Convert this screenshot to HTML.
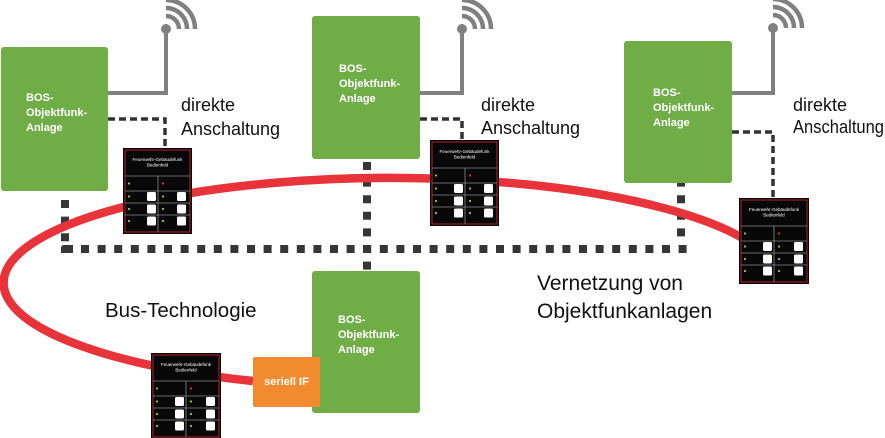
<!DOCTYPE html>
<html>
<head>
<meta charset="utf-8">
<style>
  html,body{margin:0;padding:0;background:#fff;}
  svg{display:block;}
  .lbl{font-family:"Liberation Sans",Arial,sans-serif;fill:#111;}
  .gt{font-family:"Liberation Sans",Arial,sans-serif;font-weight:bold;fill:#fff;font-size:11px;}
  .pt{font-family:"Liberation Sans",Arial,sans-serif;fill:#fff;}
</style>
</head>
<body>
<svg width="885" height="438" viewBox="0 0 885 438" xmlns="http://www.w3.org/2000/svg">
  <rect width="885" height="438" fill="#fff"/>

  <!-- big dotted network lines -->
  <g fill="none" stroke="#363636" stroke-width="8">
    <line x1="81" y1="249" x2="688" y2="249" stroke-dasharray="8 8.6"/>
    <line x1="65" y1="200" x2="65" y2="242" stroke-dasharray="8 8.6"/>
    <line x1="367" y1="162" x2="367" y2="270" stroke-dasharray="8 8.6"/>
    <line x1="681" y1="178.6" x2="681" y2="242" stroke-dasharray="8 8.6"/>
  </g>
  <path d="M61 253 V248 Q61 245 64 245 H73 V253 Z" fill="#363636"/>

  <!-- red bus ring -->
  <path d="M253 381 A388 105 0 1 1 760 250" fill="none" stroke="#e8333b" stroke-width="8.5"/>

  <!-- antennas -->
  <g fill="none" stroke="#808080" stroke-width="4">
    <polyline points="108,93 166,93 166,29"/>
    <path d="M166 16 A13 13 0 0 1 179 29" stroke-width="4.5"/>
    <path d="M166 8 A21 21 0 0 1 187 29" stroke-width="4.5"/>
    <path d="M166 0 A29 29 0 0 1 195 29" stroke-width="4.5"/>

    <polyline points="420,93 462,93 462,29"/>
    <path d="M462 16 A13 13 0 0 1 475 29" stroke-width="4.5"/>
    <path d="M462 8 A21 21 0 0 1 483 29" stroke-width="4.5"/>
    <path d="M462 0 A29 29 0 0 1 491 29" stroke-width="4.5"/>

    <polyline points="732,93 773,93 773,28"/>
    <path d="M773 15 A13 13 0 0 1 786 28" stroke-width="4.5"/>
    <path d="M773 7 A21 21 0 0 1 794 28" stroke-width="4.5"/>
    <path d="M773 -1 A29 29 0 0 1 802 28" stroke-width="4.5"/>
  </g>
  <g fill="#808080">
    <circle cx="166" cy="29" r="5"/>
    <circle cx="462" cy="29" r="5"/>
    <circle cx="773" cy="28" r="5"/>
  </g>

  <!-- thin dashed direct connections -->
  <g fill="none" stroke="#333" stroke-width="3.5" stroke-dasharray="7 4">
    <polyline points="108,119 165,119 165,148"/>
    <polyline points="420,119 462,119 462,140"/>
    <polyline points="732,132 773,132 773,199"/>
  </g>

  <!-- green boxes -->
  <g fill="#70ad47">
    <rect x="1" y="47" width="107" height="144" rx="3"/>
    <rect x="312" y="16" width="108" height="143" rx="3"/>
    <rect x="624" y="41" width="108" height="142" rx="3"/>
    <rect x="312" y="271" width="108" height="142" rx="3"/>
  </g>
  <text class="gt" x="26" y="101">BOS-</text>
  <text class="gt" x="26" y="116">Objektfunk-</text>
  <text class="gt" x="26" y="131">Anlage</text>

  <text class="gt" x="339" y="72">BOS-</text>
  <text class="gt" x="339" y="87">Objektfunk-</text>
  <text class="gt" x="339" y="102">Anlage</text>

  <text class="gt" x="653" y="96">BOS-</text>
  <text class="gt" x="653" y="111">Objektfunk-</text>
  <text class="gt" x="653" y="126">Anlage</text>

  <text class="gt" x="338" y="323">BOS-</text>
  <text class="gt" x="338" y="338">Objektfunk-</text>
  <text class="gt" x="338" y="353">Anlage</text>

  <!-- orange serial IF -->
  <rect x="253" y="357" width="67" height="50" rx="2" fill="#f28a30"/>
  <text class="gt" x="286.5" y="385" text-anchor="middle">seriell IF</text>

  <!-- labels -->
  <text class="lbl" x="181" y="111" font-size="18">direkte</text>
  <text class="lbl" x="181" y="135" font-size="18">Anschaltung</text>
  <text class="lbl" x="481" y="111" font-size="18">direkte</text>
  <text class="lbl" x="481" y="134" font-size="18">Anschaltung</text>
  <text class="lbl" x="793" y="111" font-size="18">direkte</text>
  <text class="lbl" x="793" y="133" font-size="18" textLength="91" lengthAdjust="spacingAndGlyphs">Anschaltung</text>

  <text class="lbl" x="105" y="317" font-size="20.5">Bus-Technologie</text>
  <text class="lbl" x="537" y="290" font-size="21">Vernetzung von</text>
  <text class="lbl" x="537" y="318" font-size="21">Objektfunkanlagen</text>

  <!-- panels -->
  <g transform="translate(123,148)">
    <rect width="69" height="86" fill="#080808"/>
    <rect x="2" y="2" width="65" height="82" fill="none" stroke="#b3222a" stroke-width="1"/>
    <text class="pt" x="34.5" y="13" font-size="4.5" text-anchor="middle">Feuerwehr-Gebäudefunk</text>
    <text class="pt" x="34.5" y="18.5" font-size="4.5" text-anchor="middle">Bedienfeld</text>
    <g stroke="#8a8a8a" stroke-width="0.8">
      <line x1="2" y1="28" x2="67" y2="28"/><line x1="35" y1="28" x2="35" y2="84"/>
      <line x1="2" y1="43" x2="67" y2="43"/><line x1="2" y1="55" x2="67" y2="55"/><line x1="2" y1="67" x2="67" y2="67"/>
    </g>
    <circle cx="6" cy="35.5" r="1.1" fill="#9c3"/><circle cx="40" cy="35.5" r="1.1" fill="#e33"/>
    <g fill="#9c3"><circle cx="6" cy="48.5" r="1.1"/><circle cx="6" cy="61" r="1.1"/><circle cx="6" cy="73" r="1.1"/><circle cx="40" cy="48.5" r="1.1"/><circle cx="40" cy="61" r="1.1"/><circle cx="40" cy="73" r="1.1"/></g>
    <g fill="#fff"><rect x="24" y="44" width="9" height="9" rx="1.5"/><rect x="24" y="56.5" width="9" height="9" rx="1.5"/><rect x="24" y="68.5" width="9" height="9" rx="1.5"/><rect x="54" y="44" width="9" height="9" rx="1.5"/><rect x="54" y="56.5" width="9" height="9" rx="1.5"/><rect x="54" y="68.5" width="9" height="9" rx="1.5"/></g>
  </g>

  <g transform="translate(430,140)">
    <rect width="69" height="86" fill="#080808"/>
    <rect x="2" y="2" width="65" height="82" fill="none" stroke="#b3222a" stroke-width="1"/>
    <text class="pt" x="34.5" y="13" font-size="4.5" text-anchor="middle">Feuerwehr-Gebäudefunk</text>
    <text class="pt" x="34.5" y="18.5" font-size="4.5" text-anchor="middle">Bedienfeld</text>
    <g stroke="#8a8a8a" stroke-width="0.8">
      <line x1="2" y1="28" x2="67" y2="28"/><line x1="35" y1="28" x2="35" y2="84"/>
      <line x1="2" y1="43" x2="67" y2="43"/><line x1="2" y1="55" x2="67" y2="55"/><line x1="2" y1="67" x2="67" y2="67"/>
    </g>
    <circle cx="6" cy="35.5" r="1.1" fill="#9c3"/><circle cx="40" cy="35.5" r="1.1" fill="#e33"/>
    <g fill="#9c3"><circle cx="6" cy="48.5" r="1.1"/><circle cx="6" cy="61" r="1.1"/><circle cx="6" cy="73" r="1.1"/><circle cx="40" cy="48.5" r="1.1"/><circle cx="40" cy="61" r="1.1"/><circle cx="40" cy="73" r="1.1"/></g>
    <g fill="#fff"><rect x="24" y="44" width="9" height="9" rx="1.5"/><rect x="24" y="56.5" width="9" height="9" rx="1.5"/><rect x="24" y="68.5" width="9" height="9" rx="1.5"/><rect x="54" y="44" width="9" height="9" rx="1.5"/><rect x="54" y="56.5" width="9" height="9" rx="1.5"/><rect x="54" y="68.5" width="9" height="9" rx="1.5"/></g>
  </g>

  <g transform="translate(739,198)">
    <rect width="70" height="86" fill="#080808"/>
    <rect x="2" y="2" width="66" height="82" fill="none" stroke="#b3222a" stroke-width="1"/>
    <text class="pt" x="35" y="13" font-size="4.5" text-anchor="middle">Feuerwehr-Gebäudefunk</text>
    <text class="pt" x="35" y="18.5" font-size="4.5" text-anchor="middle">Bedienfeld</text>
    <g stroke="#8a8a8a" stroke-width="0.8">
      <line x1="2" y1="28" x2="68" y2="28"/><line x1="35" y1="28" x2="35" y2="84"/>
      <line x1="2" y1="43" x2="68" y2="43"/><line x1="2" y1="55" x2="68" y2="55"/><line x1="2" y1="67" x2="68" y2="67"/>
    </g>
    <circle cx="6" cy="35.5" r="1.1" fill="#9c3"/><circle cx="40" cy="35.5" r="1.1" fill="#e33"/>
    <g fill="#9c3"><circle cx="6" cy="48.5" r="1.1"/><circle cx="6" cy="61" r="1.1"/><circle cx="6" cy="73" r="1.1"/><circle cx="40" cy="48.5" r="1.1"/><circle cx="40" cy="61" r="1.1"/><circle cx="40" cy="73" r="1.1"/></g>
    <g fill="#fff"><rect x="24" y="44" width="9" height="9" rx="1.5"/><rect x="24" y="56.5" width="9" height="9" rx="1.5"/><rect x="24" y="68.5" width="9" height="9" rx="1.5"/><rect x="55" y="44" width="9" height="9" rx="1.5"/><rect x="55" y="56.5" width="9" height="9" rx="1.5"/><rect x="55" y="68.5" width="9" height="9" rx="1.5"/></g>
  </g>

  <g transform="translate(151,353)">
    <rect width="70" height="86" fill="#080808"/>
    <rect x="2" y="2" width="66" height="82" fill="none" stroke="#b3222a" stroke-width="1"/>
    <text class="pt" x="35" y="13" font-size="4.5" text-anchor="middle">Feuerwehr-Gebäudefunk</text>
    <text class="pt" x="35" y="18.5" font-size="4.5" text-anchor="middle">Bedienfeld</text>
    <g stroke="#8a8a8a" stroke-width="0.8">
      <line x1="2" y1="28" x2="68" y2="28"/><line x1="35" y1="28" x2="35" y2="84"/>
      <line x1="2" y1="43" x2="68" y2="43"/><line x1="2" y1="55" x2="68" y2="55"/><line x1="2" y1="67" x2="68" y2="67"/>
    </g>
    <circle cx="6" cy="35.5" r="1.1" fill="#9c3"/><circle cx="40" cy="35.5" r="1.1" fill="#e33"/>
    <g fill="#9c3"><circle cx="6" cy="48.5" r="1.1"/><circle cx="6" cy="61" r="1.1"/><circle cx="6" cy="73" r="1.1"/><circle cx="40" cy="48.5" r="1.1"/><circle cx="40" cy="61" r="1.1"/><circle cx="40" cy="73" r="1.1"/></g>
    <g fill="#fff"><rect x="24" y="44" width="9" height="9" rx="1.5"/><rect x="24" y="56.5" width="9" height="9" rx="1.5"/><rect x="24" y="68.5" width="9" height="9" rx="1.5"/><rect x="55" y="44" width="9" height="9" rx="1.5"/><rect x="55" y="56.5" width="9" height="9" rx="1.5"/><rect x="55" y="68.5" width="9" height="9" rx="1.5"/></g>
  </g>
</svg>
</body>
</html>
